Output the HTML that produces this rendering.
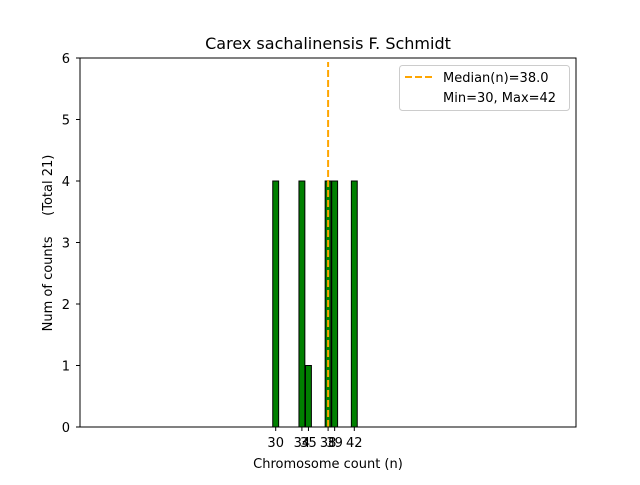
<!DOCTYPE html>
<html><head><meta charset="utf-8"><style>
body{margin:0;background:#fff;}
svg text{font-family:"DejaVu Sans","Liberation Sans",sans-serif;fill:#000;}
</style></head><body>
<svg id="chart" width="640" height="480" viewBox="0 0 640 480">
<rect width="640" height="480" fill="#fff"/>
<text x="328" y="49" font-size="16" text-anchor="middle">Carex sachalinensis F. Schmidt</text>
<g id="bars"></g>
<g id="median"></g>
<rect x="80" y="58" width="496" height="369" fill="none" stroke="#000" stroke-width="1"/>
<g id="xticks"></g>
<g id="yticks"></g>
<text x="328" y="468" font-size="13" text-anchor="middle">Chromosome count (n)</text>
<text transform="translate(52,243) rotate(-90)" font-size="13" text-anchor="middle">Num of counts&#160;&#160;&#160;&#160;&#160;(Total 21)</text>
<g>
<rect x="399.5" y="65.5" width="170" height="45" rx="3" fill="#fff" fill-opacity="0.8" stroke="#ccc"/>
<line x1="405" y1="77" x2="433" y2="77" stroke="#ffa500" stroke-width="2" stroke-dasharray="7,3"/>
<text x="443" y="82" font-size="13">Median(n)=38.0</text>
<text x="443" y="102" font-size="13">Min=30, Max=42</text>
</g>
</svg>
<script>
const categories=[30,34,35,38,39,42];
const counts=[4,4,1,4,4,4];
const yTicks=[0,1,2,3,4,5,6];
const medianValue=38.0;
const NS="http://www.w3.org/2000/svg";
function xs(v){return 275.7+(v-30)*6.55;}
function ys(v){return 427-v*61.5;}
const bw=0.9*6.55;
const bars=document.getElementById('bars');
categories.forEach((c,i)=>{
 const r=document.createElementNS(NS,'rect');
 r.setAttribute('x',xs(c)-bw/2);r.setAttribute('y',ys(counts[i]));
 r.setAttribute('width',bw);r.setAttribute('height',ys(0)-ys(counts[i]));
 r.setAttribute('fill','#008000');r.setAttribute('stroke','#000');r.setAttribute('stroke-width','1');
 
 
 bars.appendChild(r);
 const t=document.createElementNS(NS,'line');
 t.setAttribute('x1',xs(c));t.setAttribute('x2',xs(c));t.setAttribute('y1',427);t.setAttribute('y2',431);t.setAttribute('stroke','#000');
 
 
 document.getElementById('xticks').appendChild(t);
 const l=document.createElementNS(NS,'text');
 l.setAttribute('x',xs(c));l.setAttribute('y',447);l.setAttribute('font-size','13');l.setAttribute('text-anchor','middle');
 l.textContent=c;
 
 
 document.getElementById('xticks').appendChild(l);
});
yTicks.forEach(v=>{
 const t=document.createElementNS(NS,'line');
 t.setAttribute('x1',76);t.setAttribute('x2',80);t.setAttribute('y1',ys(v));t.setAttribute('y2',ys(v));t.setAttribute('stroke','#000');
 
 
 document.getElementById('yticks').appendChild(t);
 const l=document.createElementNS(NS,'text');
 l.setAttribute('x',70);l.setAttribute('y',ys(v)+5);l.setAttribute('font-size','13');l.setAttribute('text-anchor','end');
 l.textContent=v;
 
 
 document.getElementById('yticks').appendChild(l);
});
const m=document.createElementNS(NS,'line');
m.setAttribute('x1',xs(medianValue));m.setAttribute('x2',xs(medianValue));m.setAttribute('y1',ys(0));m.setAttribute('y2',62);
m.setAttribute('stroke','#ffa500');m.setAttribute('stroke-width','2');m.setAttribute('stroke-dasharray','7,3');


document.getElementById('median').appendChild(m);
</script>
</body></html>
